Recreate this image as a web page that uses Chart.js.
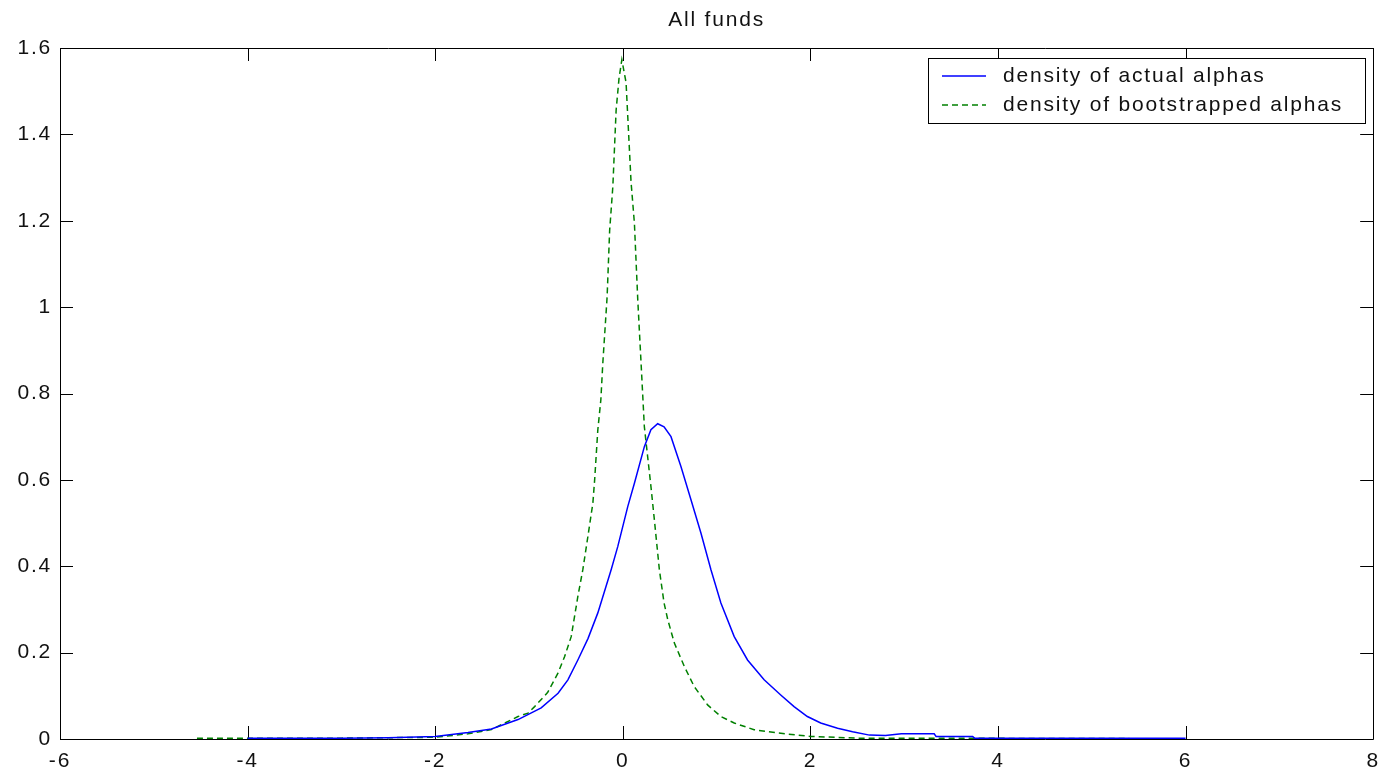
<!DOCTYPE html>
<html>
<head>
<meta charset="utf-8">
<title>All funds</title>
<script src="https://cdn.jsdelivr.net/npm/chart.js@4/dist/chart.umd.min.js"></script>
<style>
  html, body { margin: 0; padding: 0; background: #fff; }
  #wrap { width: 1389px; height: 775px; }
</style>
</head>
<body>
<div id="wrap"><canvas id="grafica"></canvas></div>
<script>
// =================== Datos ===================
const TITULO = "All funds";
const LEYENDA = ["density of actual alphas", "density of bootstrapped alphas"];

// densidad de alphas reales (línea azul)
const xActual = [-4.0, -3.0, -2.5, -2.0, -1.65, -1.4, -1.117, -0.87, -0.69, -0.585, -0.479, -0.37, -0.266,
  -0.124, -0.053, 0.053, 0.124, 0.23, 0.3, 0.372, 0.44, 0.514, 0.62, 0.727, 0.833, 0.94, 1.046, 1.188, 1.33,
  1.507, 1.684, 1.826, 1.968, 2.11, 2.29, 2.45, 2.63, 2.8, 2.97, 3.32, 3.34, 3.73, 3.75, 6.0];
const yActual = [0.002, 0.002, 0.003, 0.006, 0.015, 0.023, 0.045, 0.072, 0.106, 0.137, 0.183, 0.233, 0.292,
  0.392, 0.446, 0.538, 0.592, 0.677, 0.716, 0.73, 0.723, 0.70, 0.631, 0.554, 0.477, 0.392, 0.315, 0.237, 0.183,
  0.137, 0.102, 0.075, 0.052, 0.037, 0.025, 0.017, 0.009, 0.008, 0.012, 0.012, 0.006, 0.006, 0.002, 0.002];

// densidad de alphas bootstrap (línea verde punteada)
const xBoot = [-4.54, -3.0, -2.0, -1.65, -1.4, -1.117, -1.01, -0.94, -0.8, -0.69, -0.62, -0.55, -0.479,
  -0.426, -0.372, -0.319, -0.3, -0.266, -0.234, -0.213, -0.167, -0.14, -0.106, -0.071, -0.04, -0.01, 0.035,
  0.088, 0.124, 0.16, 0.195, 0.23, 0.3, 0.337, 0.39, 0.44, 0.48, 0.55, 0.656, 0.76, 0.904, 1.046, 1.188,
  1.4, 1.65, 2.0, 2.5, 5.4];
const yBoot = [0.002, 0.002, 0.004, 0.012, 0.022, 0.052, 0.06, 0.075, 0.108, 0.153, 0.191, 0.237, 0.33,
  0.392, 0.469, 0.546, 0.6, 0.716, 0.785, 0.87, 1.024, 1.178, 1.279, 1.456, 1.53, 1.573, 1.52,
  1.29, 1.194, 1.016, 0.87, 0.723, 0.585, 0.507, 0.392, 0.315, 0.276, 0.222, 0.168, 0.122, 0.079, 0.052, 0.037,
  0.0215, 0.014, 0.006, 0.002, 0.001];

// ejes
const X_MIN = -6, X_MAX = 8, X_PASO = 2;
const Y_MIN = 0, Y_MAX = 1.6, Y_PASO = 0.2;

// =================== Estilo ===================
const FUENTE = "'Liberation Sans', Arial, sans-serif";
const TAM = 21;
const ESPACIADO = "1.8px";
const AZUL = "#0000ff";
const VERDE = "#008000";
const TEXTO = "#111";

const aPuntos = (xs, ys) => xs.map((x, i) => ({ x, y: ys[i] }));

// marco tipo MATLAB con ticks hacia adentro, título y leyenda
const marcoPlugin = {
  id: "marco",
  beforeDraw(chart) {
    chart.ctx.letterSpacing = ESPACIADO;
  },
  beforeDatasetsDraw(chart) {
    const { ctx, chartArea: a, scales } = chart;
    const L = 13;
    ctx.save();
    ctx.strokeStyle = "#000";
    ctx.lineWidth = 1;
    ctx.beginPath();
    ctx.rect(Math.round(a.left) + 0.5, Math.round(a.top) + 0.5,
             Math.round(a.right - a.left), Math.round(a.bottom - a.top));
    scales.x.ticks.forEach(t => {
      const px = Math.round(scales.x.getPixelForValue(t.value)) + 0.5;
      ctx.moveTo(px, a.bottom); ctx.lineTo(px, a.bottom - L);
      ctx.moveTo(px, a.top); ctx.lineTo(px, a.top + L);
    });
    scales.y.ticks.forEach(t => {
      const py = Math.round(scales.y.getPixelForValue(t.value)) + 0.5;
      ctx.moveTo(a.left, py); ctx.lineTo(a.left + L, py);
      ctx.moveTo(a.right, py); ctx.lineTo(a.right - L, py);
    });
    ctx.stroke();

    // título centrado sobre el área del gráfico
    ctx.letterSpacing = ESPACIADO;
    ctx.font = `${TAM}px ${FUENTE}`;
    ctx.fillStyle = TEXTO;
    ctx.textAlign = "left";
    ctx.textBaseline = "middle";
    const w = ctx.measureText(TITULO).width;
    ctx.fillText(TITULO, (a.left + a.right) / 2 - w / 2, 20);
    ctx.restore();
  },
  afterDraw(chart) {
    // leyenda dentro del área, arriba a la derecha
    const { ctx } = chart;
    const ds = chart.data.datasets;
    const box = { x: 928.5, y: 58.5, w: 437, h: 65 };
    ctx.save();
    ctx.letterSpacing = ESPACIADO;
    ctx.fillStyle = "#fff";
    ctx.fillRect(box.x, box.y, box.w, box.h);
    ctx.strokeStyle = "#000";
    ctx.lineWidth = 1;
    ctx.strokeRect(box.x, box.y, box.w, box.h);
    ctx.font = `${TAM}px ${FUENTE}`;
    ctx.textBaseline = "middle";
    ctx.textAlign = "left";
    const filas = [76, 105];
    ds.forEach((d, i) => {
      ctx.strokeStyle = d.borderColor;
      ctx.lineWidth = d.borderWidth;
      ctx.setLineDash(d.borderDash || []);
      ctx.beginPath();
      ctx.moveTo(942, filas[i]);
      ctx.lineTo(986, filas[i]);
      ctx.stroke();
      ctx.setLineDash([]);
      ctx.fillStyle = TEXTO;
      ctx.fillText(d.label, 1003, filas[i]);
    });
    ctx.restore();
  }
};

const ctx = document.getElementById("grafica").getContext("2d");

new Chart(ctx, {
  type: "line",
  data: {
    datasets: [{
      label: LEYENDA[0],
      data: aPuntos(xActual, yActual),
      borderColor: AZUL,
      borderWidth: 1.5,
      pointRadius: 0,
      tension: 0
    }, {
      label: LEYENDA[1],
      data: aPuntos(xBoot, yBoot),
      borderColor: VERDE,
      borderWidth: 1.5,
      borderDash: [6, 4],
      pointRadius: 0,
      tension: 0
    }]
  },
  options: {
    responsive: true,
    maintainAspectRatio: false,
    animation: false,
    layout: { padding: { left: 0, right: 8, top: 48, bottom: 0 } },
    plugins: {
      legend: { display: false },
      tooltip: { enabled: false },
      title: { display: false }
    },
    scales: {
      x: {
        type: "linear",
        min: X_MIN, max: X_MAX,
        grid: { display: false, drawTicks: false },
        border: { display: false },
        ticks: {
          stepSize: X_PASO,
          color: TEXTO,
          padding: 10,
          maxRotation: 0,
          font: { family: FUENTE, size: TAM },
          callback: (v) => `${+v.toFixed(1)}`
        },
        afterFit: (s) => { s.height = 36; }
      },
      y: {
        min: Y_MIN, max: Y_MAX,
        grid: { display: false, drawTicks: false },
        border: { display: false },
        ticks: {
          stepSize: Y_PASO,
          color: TEXTO,
          padding: 8,
          font: { family: FUENTE, size: TAM },
          callback: (v) => `${+v.toFixed(1)}`
        },
        afterFit: (s) => { s.width = 60; }
      }
    }
  },
  plugins: [marcoPlugin]
});
</script>
</body>
</html>
